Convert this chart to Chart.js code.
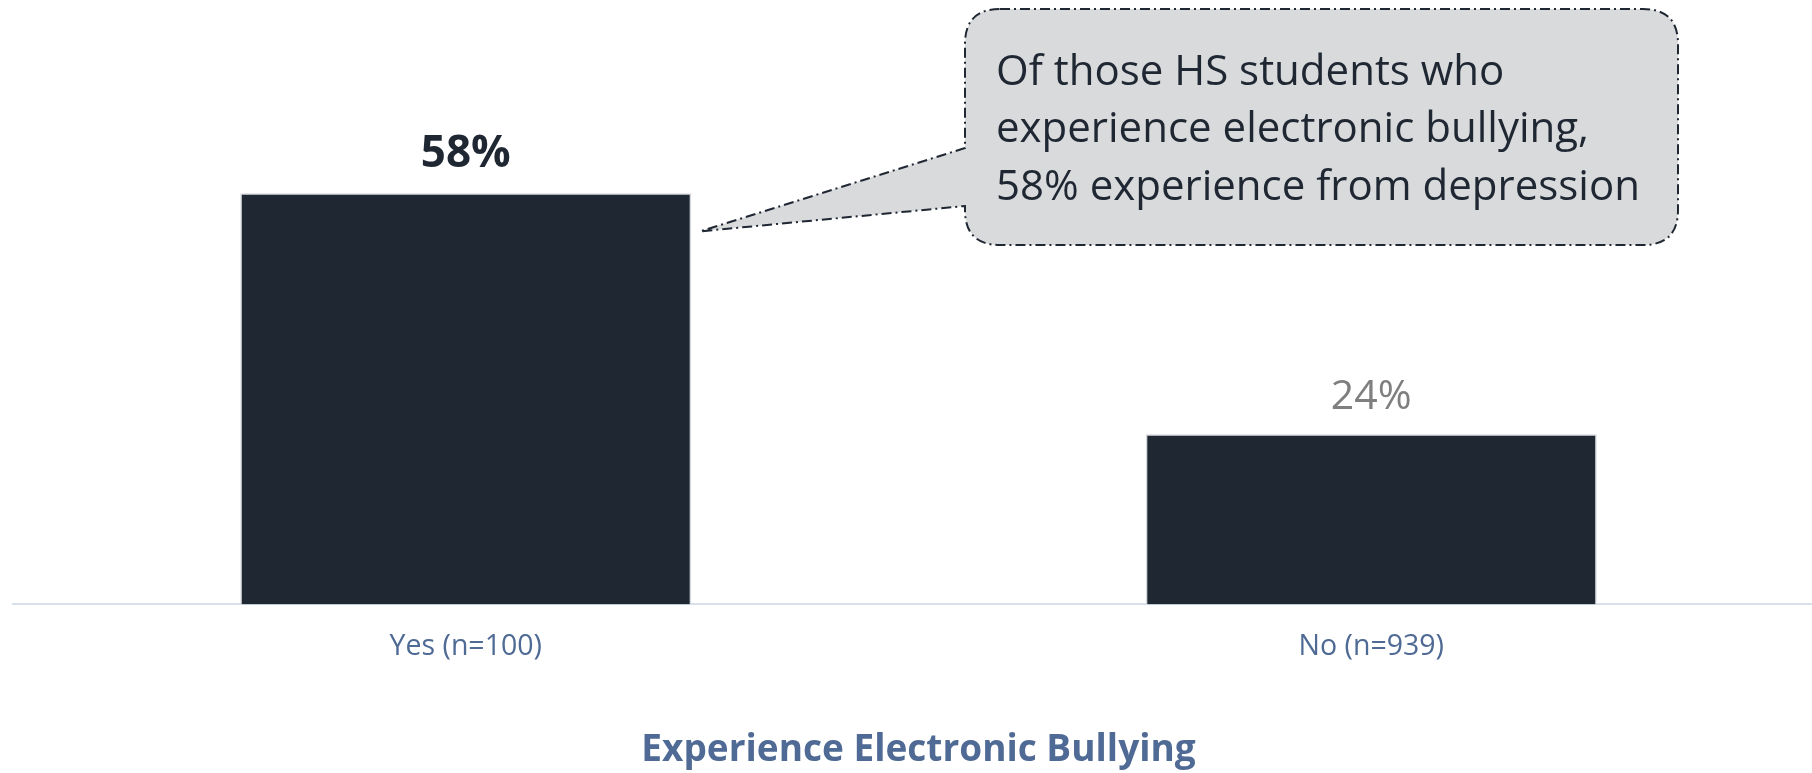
<!DOCTYPE html>
<html>
<head>
<meta charset="utf-8">
<script src="https://cdn.jsdelivr.net/npm/chart.js@4.4.1/dist/chart.umd.min.js"></script>
<style>
html,body{margin:0;padding:0;background:#fff;overflow:hidden;}
</style>
</head>
<body>
<canvas id="c" width="1826" height="773"></canvas>
<script>
const categories = ['Yes (n=100)', 'No (n=939)'];
const values = [58, 24];
const valueLabels = ['58%', '24%'];
const axisTitle = 'Experience Electronic Bullying';
const calloutLines = ['Of those HS students who', 'experience electronic bullying,', '58% experience from depression'];

const FONT = "'Open Sans', 'Liberation Sans', sans-serif";

const valueLabelPlugin = {
  id: 'valueLabels',
  afterDatasetsDraw(chart) {
    const ctx = chart.ctx;
    const meta = chart.getDatasetMeta(0);
    meta.data.forEach((bar, i) => {
      ctx.save();
      ctx.textAlign = 'center';
      ctx.textBaseline = 'middle';
      if (i === 0) {
        ctx.font = 'bold 44px ' + FONT;
        ctx.fillStyle = '#1f2733';
        ctx.fillText(valueLabels[i], bar.x, bar.y - 39);
      } else {
        ctx.font = '41px ' + FONT;
        ctx.fillStyle = '#7f7f7f';
        ctx.fillText(valueLabels[i], bar.x, bar.y - 37);
      }
      ctx.restore();
    });
  }
};

const calloutPlugin = {
  id: 'callout',
  afterDraw(chart) {
    const ctx = chart.ctx;
    const bar = chart.getDatasetMeta(0).data[0];
    const tipX = bar.x + bar.width / 2 + 9;
    const tipY = bar.y + 38;
    const L = 965, R = 1678, T = 9, B = 245, r = 35;
    const p1 = 148, p2 = 206;
    ctx.save();
    ctx.beginPath();
    ctx.moveTo(L + r, T);
    ctx.lineTo(R - r, T);
    ctx.quadraticCurveTo(R, T, R, T + r);
    ctx.lineTo(R, B - r);
    ctx.quadraticCurveTo(R, B, R - r, B);
    ctx.lineTo(L + r, B);
    ctx.quadraticCurveTo(L, B, L, B - r);
    ctx.lineTo(L, p2);
    ctx.lineTo(tipX, tipY);
    ctx.lineTo(L, p1);
    ctx.lineTo(L, T + r);
    ctx.quadraticCurveTo(L, T, L + r, T);
    ctx.closePath();
    ctx.fillStyle = '#d9dadc';
    ctx.fill();
    ctx.setLineDash([10, 4, 2, 4]);
    ctx.lineWidth = 2;
    ctx.strokeStyle = '#1f2733';
    ctx.stroke();
    ctx.setLineDash([]);
    ctx.font = '42px ' + FONT;
    ctx.fillStyle = '#1f2733';
    ctx.textAlign = 'left';
    ctx.textBaseline = 'middle';
    const ys = [73, 130, 188];
    calloutLines.forEach((t, i) => ctx.fillText(t, 996, ys[i]));
    ctx.restore();
  }
};

new Chart(document.getElementById('c'), {
  type: 'bar',
  data: {
    labels: categories,
    datasets: [{
      data: values,
      backgroundColor: '#1f2733',
      borderColor: '#d3d6db',
      borderWidth: 1.5,
      borderSkipped: 'bottom',
      barPercentage: 0.498,
      categoryPercentage: 1
    }]
  },
  options: {
    responsive: false,
    animation: false,
    layout: { padding: { left: 13, right: 2, top: 2, bottom: 0 } },
    plugins: {
      legend: { display: false },
      tooltip: { enabled: false },
      title: { display: false }
    },
    scales: {
      x: {
        grid: { display: false, drawTicks: false },
        border: { display: true, color: '#d9e0ea', width: 2 },
        ticks: {
          color: '#4f6a94',
          font: { family: FONT, size: 28.5 },
          padding: 25
        },
        title: {
          display: true,
          text: axisTitle,
          color: '#4f6a94',
          font: { family: FONT, size: 37, weight: 'bold' },
          padding: { top: 40, bottom: 0 }
        }
      },
      y: {
        display: false,
        min: 0,
        max: 85
      }
    }
  },
  plugins: [valueLabelPlugin, calloutPlugin]
});
</script>
</body>
</html>
